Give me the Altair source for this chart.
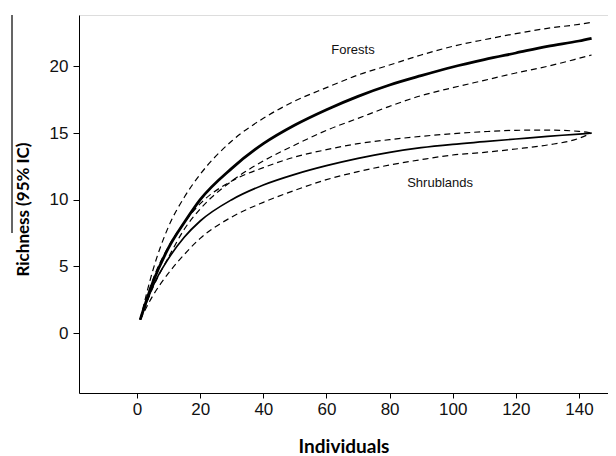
import altair as alt
import pandas as pd

x_vals = [1, 5, 10, 15, 20, 30, 40, 50, 60, 70, 80, 90, 100, 110, 120, 130, 140, 144]

forest_mean = [1, 3.8, 6.4, 8.3, 10.0, 12.35, 14.2, 15.6, 16.75, 17.75, 18.6, 19.3, 19.95, 20.5, 21.0, 21.5, 21.9, 22.1]
forest_upper = [1, 4.7, 8.0, 10.2, 11.9, 14.4, 16.1, 17.4, 18.4, 19.35, 20.1, 20.85, 21.5, 22.0, 22.45, 22.85, 23.15, 23.3]
forest_lower = [1, 3.4, 5.7, 7.8, 9.3, 11.4, 12.9, 14.1, 15.2, 16.1, 17.0, 17.8, 18.4, 18.95, 19.5, 20.0, 20.6, 20.85]

shrub_mean = [1, 3.5, 5.6, 7.2, 8.4, 10.0, 11.1, 11.9, 12.55, 13.1, 13.55, 13.9, 14.15, 14.35, 14.55, 14.75, 14.92, 15.0]
shrub_upper = [1, 4.0, 6.5, 8.3, 9.7, 11.4, 12.4, 13.2, 13.75, 14.2, 14.5, 14.75, 14.95, 15.1, 15.2, 15.22, 15.12, 15.0]
shrub_lower = [1, 2.8, 4.5, 5.9, 7.1, 8.7, 9.8, 10.7, 11.5, 12.1, 12.6, 13.0, 13.35, 13.55, 13.8, 14.1, 14.6, 15.0]

label_text = ["Forests", "Shrublands"]
label_x = [68.4, 96]
label_y = [21.2, 11.25]

x_ticks = [0, 20, 40, 60, 80, 100, 120, 140]
y_ticks = [0, 5, 10, 15, 20]

series = {
    "forest_mean": forest_mean,
    "forest_upper": forest_upper,
    "forest_lower": forest_lower,
    "shrub_mean": shrub_mean,
    "shrub_upper": shrub_upper,
    "shrub_lower": shrub_lower,
}
rows = []
for name, vals in series.items():
    for xv, yv in zip(x_vals, vals):
        rows.append({"x": xv, "y": yv, "series": name})
df = pd.DataFrame(rows)
labels = pd.DataFrame({"label": label_text, "x": label_x, "y": label_y})

xscale = alt.Scale(domain=[-18.4, 149.2], nice=False, zero=False)
yscale = alt.Scale(domain=[-4.5, 23.85], nice=False, zero=False)

xaxis = alt.Axis(
    title="Individuals", values=x_ticks, grid=False,
    domainColor="black", tickColor="black", tickSize=5,
    labelFont="Liberation Sans", labelFontSize=17, labelColor="#111",
    labelPadding=3, titleFont="Lato", titleFontSize=19, titleFontWeight="bold",
    titleColor="black", titlePadding=20,
)
yaxis = alt.Axis(
    title="Richness (95% IC)", values=y_ticks, grid=False,
    domainColor="black", tickColor="black", tickSize=6,
    labelFont="Liberation Sans", labelFontSize=17, labelColor="#111",
    labelPadding=5, titleFont="Lato", titleFontSize=17, titleFontWeight="bold",
    titleColor="black", titlePadding=17, titleY=194,
)

base = alt.Chart(df)

dashed = base.transform_filter(
    alt.FieldOneOfPredicate(field="series", oneOf=["forest_upper", "forest_lower", "shrub_upper", "shrub_lower"])
).mark_line(color="black", strokeWidth=1.2, strokeDash=[6, 4], interpolate="monotone").encode(
    x=alt.X("x:Q", scale=xscale, axis=xaxis),
    y=alt.Y("y:Q", scale=yscale, axis=yaxis),
    detail="series:N",
)

forest = base.transform_filter(alt.datum.series == "forest_mean").mark_line(
    color="black", strokeWidth=2.8, interpolate="monotone"
).encode(x=alt.X("x:Q", scale=xscale), y=alt.Y("y:Q", scale=yscale))

shrub = base.transform_filter(alt.datum.series == "shrub_mean").mark_line(
    color="black", strokeWidth=1.7, interpolate="monotone"
).encode(x=alt.X("x:Q", scale=xscale), y=alt.Y("y:Q", scale=yscale))

text = alt.Chart(labels).mark_text(font="Liberation Sans", fontSize=13, color="#111").encode(
    x=alt.X("x:Q", scale=xscale), y=alt.Y("y:Q", scale=yscale), text="label:N"
)

artifact = alt.Chart(labels).mark_rule(color="#333", strokeWidth=1).encode(
    x=alt.value(-67), y=alt.value(0), y2=alt.value(218)
)

chart = alt.layer(dashed, forest, shrub, text, artifact).properties(
    width=529, height=378,
    autosize=alt.AutoSizeParams(type="none"),
    padding={"left": 71, "top": 7, "right": 0, "bottom": 63},
).configure_view(stroke=None).configure(background="white")

chart.save("out.html", embed_options={"renderer": "svg", "actions": False})
